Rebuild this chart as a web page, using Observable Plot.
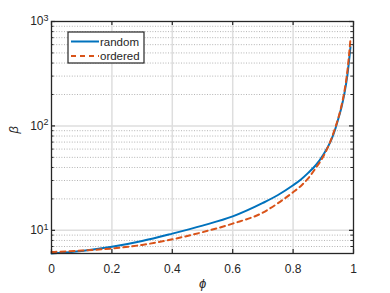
<!DOCTYPE html>
<html><head><meta charset="utf-8">
<script src="https://cdn.jsdelivr.net/npm/d3@7"></script>
<script src="https://cdn.jsdelivr.net/npm/@observablehq/plot@0.6"></script>
<style>
body{margin:0;background:#fff;}
#chart{position:relative;width:390px;height:293px;}
</style></head><body><div id="chart"></div>
<script>
const phi     = [0, 0.1, 0.2, 0.3, 0.4, 0.5, 0.6, 0.7, 0.75, 0.8, 0.825, 0.85, 0.875, 0.9, 0.925, 0.94, 0.95, 0.96, 0.97, 0.98, 0.99];
const random  = [6.0, 6.35, 6.95, 7.9, 9.3, 11.1, 13.6, 18.3, 21.8, 27, 30.5, 35.5, 42, 53, 72, 94, 118, 150, 205, 310, 570];
const ordered = [6.2, 6.4, 6.7, 7.25, 8.2, 9.6, 11.6, 14.8, 18.2, 23.2, 26.5, 31.5, 39.5, 51, 73, 97, 120, 155, 215, 340, 680];
const seriesNames = ["random", "ordered"];
const seriesColors = ["#0072BD", "#D95319"];
const xTicks = [0, 0.2, 0.4, 0.6, 0.8, 1];
const yMajor = [10, 100, 1000];
const yMinor = [6, 7, 8, 9, 20, 30, 40, 50, 60, 70, 80, 90, 200, 300, 400, 500, 600, 700, 800, 900];
const xLabel = "\u03D5";
const yLabel = "β";

const W = 390, H = 293, mt = 21, mr = 37, mb = 40, ml = 51;
const iw = W - ml - mr, ih = H - mt - mb;
const ink = "#262626";
const font = "'Liberation Sans', Arial, sans-serif";

const rows = phi.map((p, i) => ({phi: p, random: random[i], ordered: ordered[i]}));

const chart = Plot.plot({
  width: W, height: H,
  marginTop: mt, marginRight: mr, marginBottom: mb, marginLeft: ml,
  x: {domain: [0, 1]},
  y: {type: "log", domain: [6, 1000]},
  style: {fontFamily: font, fontSize: "12px", color: ink, background: "white"},
  marks: [
    Plot.ruleY(yMinor, {y: d => d, stroke: "#b4b4b4", strokeWidth: 1, strokeDasharray: "1,1.6"}),
    Plot.ruleX(xTicks.slice(1, -1), {x: d => d, stroke: "#dedede", strokeWidth: 1.5}),
    Plot.ruleY(yMajor.slice(0, -1), {y: d => d, stroke: "#dedede", strokeWidth: 1.5}),
    Plot.line(rows, {x: "phi", y: "random", stroke: seriesColors[0], strokeWidth: 2, curve: "monotone-x"}),
    Plot.line(rows, {x: "phi", y: "ordered", stroke: seriesColors[1], strokeWidth: 2, strokeDasharray: "5,4", curve: "monotone-x"}),
    Plot.frame({stroke: ink, strokeWidth: 1.3}),
    Plot.tickX(xTicks, {x: d => d, insetTop: ih - 4, stroke: ink, strokeWidth: 1.2}),
    Plot.tickX(xTicks, {x: d => d, insetBottom: ih - 4, stroke: ink, strokeWidth: 1.2}),
    Plot.tickY(yMajor, {y: d => d, insetRight: iw - 4, stroke: ink, strokeWidth: 1.2}),
    Plot.tickY(yMajor, {y: d => d, insetLeft: iw - 4, stroke: ink, strokeWidth: 1.2}),
    Plot.tickY(yMinor, {y: d => d, insetRight: iw - 2.5, stroke: ink, strokeWidth: 1}),
    Plot.tickY(yMinor, {y: d => d, insetLeft: iw - 2.5, stroke: ink, strokeWidth: 1}),
    Plot.axisX(xTicks, {tickSize: 0, tickPadding: 11, label: null, fontSize: 12,
      tickFormat: d => String(+d.toFixed(1))}),
    Plot.axisY(yMajor, {tickSize: 0, tickPadding: 3, label: null, fontSize: 12,
      tickFormat: d => "10^" + Math.round(Math.log10(d))}),
    Plot.text([xLabel], {text: d => d, frameAnchor: "bottom", dy: 34, fontStyle: "italic", fontSize: 13, fill: ink}),
    Plot.text([yLabel], {text: d => d, frameAnchor: "left", dx: -38, dy: -4, rotate: -90, fontStyle: "italic", fontSize: 13, fill: ink})
  ]
});

document.getElementById("chart").appendChild(chart);
const svg = d3.select(chart);

// superscript exponents on y tick labels
svg.selectAll("text").each(function() {
  const t = d3.select(this);
  const s = t.text();
  if (/^10\^\d+$/.test(s)) {
    const e = s.split("^")[1];
    t.text("");
    t.append("tspan").text("10");
    t.append("tspan").attr("dy", "-0.5em").attr("font-size", "0.75em").text(e);
  }
});

// legend
const lg = svg.append("g").attr("font-family", font).attr("font-size", 11.5).attr("text-anchor", "start");
const lx = ml + 17, ly = mt + 11, lw = 76, lh = 31;
lg.append("rect").attr("x", lx).attr("y", ly).attr("width", lw).attr("height", lh)
  .attr("fill", "white").attr("stroke", ink).attr("stroke-width", 1.2);
seriesNames.forEach((name, i) => {
  const yy = ly + 9.5 + i * 14.5;
  lg.append("line").attr("x1", lx + 3).attr("x2", lx + 31).attr("y1", yy).attr("y2", yy)
    .attr("stroke", seriesColors[i]).attr("stroke-width", 2)
    .attr("stroke-dasharray", i === 1 ? "5,4" : null);
  lg.append("text").attr("x", lx + 32).attr("y", yy).attr("dy", "0.35em").attr("fill", ink)
    .attr("text-anchor", "start").text(name);
});
</script>
</body></html>
